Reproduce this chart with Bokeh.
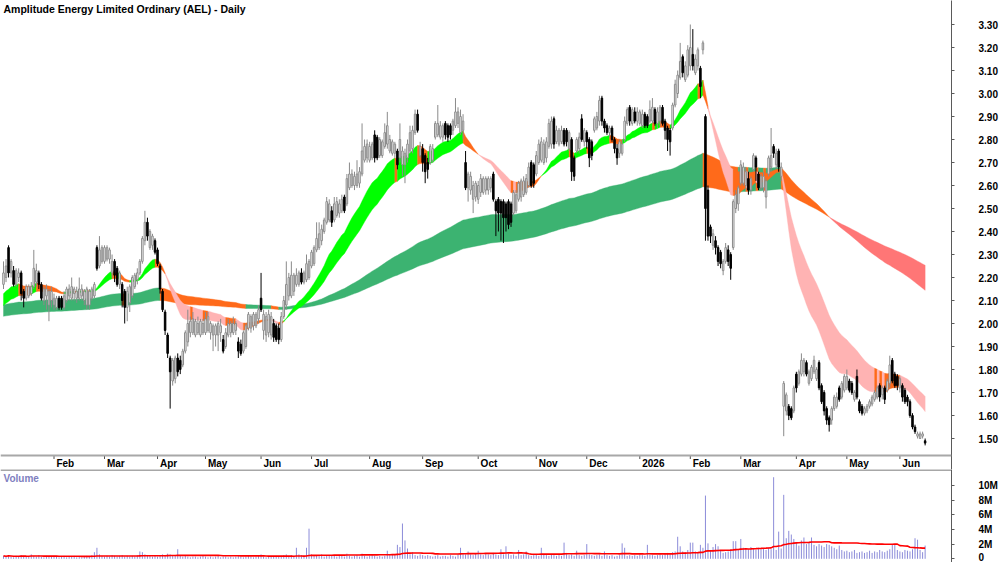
import numpy as np
import pandas as pd
from bokeh.plotting import figure
from bokeh.layouts import column
from bokeh.models import Range1d, FixedTicker, NumeralTickFormatter, Span, Label, ColumnDataSource
from bokeh.core.properties import value
from bokeh.embed import file_html
from bokeh.resources import INLINE

TITLE = "Amplitude Energy Limited Ordinary (AEL) - Daily"

open_ = [
2.17,2.20,2.33,2.22,2.23,2.17,2.20,2.22,2.14,2.11,
2.12,2.13,2.16,2.18,2.22,2.17,2.10,2.12,2.08,2.10,
2.08,2.07,2.11,2.11,2.07,2.10,2.12,2.11,2.13,2.11,
2.11,2.12,2.10,2.08,2.08,2.11,2.12,2.33,2.25,2.27,
2.27,2.28,2.28,2.22,2.27,2.24,2.17,2.17,2.14,2.07,
2.09,2.12,2.16,2.19,2.22,2.27,2.36,2.44,2.33,2.34,
2.36,2.32,2.25,2.14,2.05,1.95,1.85,1.75,1.76,1.85,
1.84,1.82,1.88,1.92,1.96,1.96,1.95,1.96,1.95,1.96,
1.96,1.97,1.96,1.95,1.95,1.95,1.96,1.93,1.90,1.95,
1.96,1.96,1.97,1.92,1.91,1.88,1.90,1.98,1.98,1.99,
1.99,2.02,2.11,1.97,1.95,1.96,1.95,2.00,1.99,1.98,
1.93,2.03,2.08,2.12,2.12,2.14,2.17,2.17,2.22,2.18,
2.19,2.20,2.25,2.26,2.32,2.33,2.36,2.40,2.44,2.45,
2.49,2.45,2.47,2.48,2.49,2.55,2.52,2.59,2.60,2.60,
2.60,2.61,2.65,2.71,2.72,2.71,2.72,2.82,2.81,2.73,
2.73,2.77,2.78,2.75,2.74,2.74,2.75,2.72,2.69,2.69,
2.72,2.75,2.76,2.83,2.91,2.73,2.76,2.73,2.70,2.70,
2.71,2.81,2.82,2.81,2.81,2.87,2.86,2.86,2.84,2.86,
2.87,2.83,2.84,2.70,2.59,2.58,2.54,2.55,2.54,2.57,
2.57,2.58,2.58,2.59,2.65,2.53,2.54,2.53,2.53,2.52,
2.53,2.52,2.48,2.49,2.54,2.55,2.56,2.57,2.60,2.70,
2.69,2.65,2.70,2.71,2.70,2.72,2.77,2.78,2.89,2.79,
2.78,2.79,2.84,2.84,2.76,2.80,2.72,2.75,2.76,2.89,
2.79,2.83,2.80,2.79,2.84,2.85,2.88,2.98,2.88,2.86,
2.83,2.85,2.80,2.76,2.74,2.74,2.80,2.87,2.94,2.87,
2.92,2.88,2.87,2.86,2.91,2.90,2.88,2.88,2.93,2.87,
2.88,2.94,2.88,2.85,2.84,2.85,2.95,3.00,3.07,3.16,
3.06,3.08,3.12,3.17,3.09,3.12,3.11,3.19,2.90,2.58,
2.42,2.34,2.36,2.33,2.31,2.23,2.27,2.32,2.30,2.33,
2.50,2.52,2.61,2.61,2.60,2.63,2.58,2.67,2.72,2.65,
2.59,2.59,2.55,2.65,2.68,2.77,2.69,2.75,2.64,1.64,
1.62,1.64,1.63,1.62,1.78,1.74,1.78,1.79,1.83,1.74,
1.76,1.79,1.76,1.83,1.73,1.70,1.63,1.59,1.58,1.63,
1.64,1.72,1.68,1.71,1.72,1.75,1.74,1.67,1.77,1.66,
1.64,1.61,1.62,1.64,1.65,1.67,1.68,1.73,1.69,1.72,
1.71,1.74,1.84,1.78,1.77,1.72,1.73,1.71,1.68,1.66,
1.60,1.55,1.51,1.50,1.51,1.49]

high_ = [
2.27,2.28,2.34,2.28,2.25,2.24,2.24,2.23,2.15,2.17,
2.17,2.18,2.32,2.26,2.23,2.18,2.16,2.17,2.15,2.16,
2.13,2.12,2.12,2.12,2.14,2.16,2.17,2.20,2.16,2.16,
2.20,2.17,2.15,2.16,2.15,2.16,2.18,2.34,2.38,2.34,
2.34,2.34,2.33,2.30,2.28,2.25,2.23,2.18,2.15,2.16,
2.17,2.21,2.22,2.24,2.28,2.38,2.49,2.46,2.41,2.39,
2.37,2.33,2.26,2.15,2.06,1.96,1.86,1.85,1.86,1.87,
1.86,1.89,1.97,2.06,2.03,2.05,2.02,2.03,2.02,2.02,
2.05,2.05,2.01,2.00,2.00,2.01,2.02,1.95,1.98,2.02,
2.01,2.03,2.01,1.94,1.93,1.97,2.00,2.05,2.04,2.05,
2.05,2.08,2.22,2.06,2.05,2.06,2.05,2.02,2.00,2.00,
2.05,2.12,2.27,2.22,2.27,2.22,2.24,2.23,2.24,2.23,
2.30,2.28,2.32,2.34,2.44,2.44,2.43,2.46,2.55,2.54,
2.51,2.55,2.55,2.54,2.56,2.56,2.65,2.70,2.67,2.66,
2.71,2.68,2.87,2.80,2.80,2.79,2.79,2.84,2.82,2.81,
2.80,2.87,2.92,2.82,2.80,2.79,2.76,2.87,2.77,2.76,
2.80,2.86,2.86,2.93,2.93,2.79,2.78,2.74,2.72,2.78,
2.78,2.88,2.95,2.88,2.87,2.88,2.87,2.87,2.89,2.98,
2.94,2.93,2.91,2.75,2.66,2.66,2.62,2.62,2.62,2.65,
2.64,2.64,2.64,2.64,2.66,2.54,2.55,2.54,2.54,2.53,
2.54,2.53,2.58,2.58,2.62,2.63,2.64,2.65,2.70,2.71,
2.70,2.75,2.80,2.81,2.80,2.81,2.89,2.90,2.90,2.86,
2.85,2.86,2.85,2.85,2.84,2.81,2.73,2.81,2.83,2.91,
2.85,2.84,2.81,2.80,2.90,2.92,2.99,2.99,2.89,2.87,
2.86,2.86,2.81,2.78,2.80,2.80,2.90,2.94,2.95,2.94,
2.94,2.94,2.93,2.93,2.92,2.91,2.97,2.98,2.94,2.94,
2.95,2.95,2.89,2.86,2.85,2.96,3.06,3.10,3.22,3.17,
3.14,3.21,3.30,3.28,3.17,3.20,3.12,3.23,2.91,2.60,
2.43,2.41,2.38,2.34,2.32,2.28,2.35,2.34,2.31,2.54,
2.58,2.60,2.71,2.70,2.68,2.66,2.64,2.74,2.73,2.66,
2.65,2.66,2.63,2.73,2.85,2.78,2.76,2.76,2.70,1.75,
1.70,1.65,1.64,1.73,1.79,1.80,1.87,1.85,1.84,1.80,
1.82,1.86,1.81,1.84,1.74,1.71,1.64,1.60,1.64,1.69,
1.70,1.73,1.75,1.78,1.80,1.76,1.75,1.71,1.80,1.67,
1.65,1.64,1.65,1.67,1.69,1.71,1.73,1.74,1.73,1.73,
1.76,1.86,1.85,1.79,1.78,1.77,1.74,1.72,1.69,1.67,
1.61,1.56,1.53,1.53,1.53,1.50]

low_ = [
2.15,2.18,2.20,2.20,2.16,2.16,2.18,2.10,2.07,2.10,
2.11,2.12,2.15,2.16,2.15,2.10,2.08,2.06,2.01,2.07,
2.06,2.06,2.06,2.06,2.06,2.09,2.10,2.10,2.10,2.09,
2.10,2.10,2.08,2.06,2.06,2.10,2.11,2.23,2.24,2.26,
2.26,2.27,2.26,2.20,2.18,2.16,2.15,2.07,2.00,2.01,
2.05,2.11,2.15,2.17,2.21,2.26,2.34,2.36,2.32,2.32,
2.30,2.25,2.13,2.05,1.95,1.85,1.63,1.73,1.74,1.77,
1.78,1.81,1.87,1.90,1.94,1.95,1.94,1.95,1.94,1.95,
1.95,1.96,1.93,1.88,1.90,1.88,1.92,1.87,1.89,1.94,
1.94,1.95,1.95,1.85,1.86,1.87,1.89,1.97,1.96,1.97,
1.98,2.00,2.05,1.93,1.92,1.94,1.93,1.92,1.92,1.91,
1.92,2.02,2.06,2.10,2.11,2.12,2.16,2.16,2.17,2.17,
2.18,2.19,2.24,2.25,2.31,2.32,2.34,2.39,2.43,2.44,
2.42,2.44,2.46,2.46,2.48,2.48,2.51,2.58,2.59,2.58,
2.59,2.59,2.64,2.70,2.70,2.70,2.71,2.70,2.71,2.72,
2.72,2.76,2.76,2.74,2.73,2.72,2.67,2.70,2.64,2.61,
2.70,2.74,2.74,2.82,2.83,2.72,2.66,2.61,2.63,2.69,
2.70,2.80,2.81,2.80,2.79,2.80,2.79,2.80,2.82,2.85,
2.85,2.82,2.80,2.58,2.53,2.56,2.48,2.53,2.52,2.55,
2.56,2.56,2.56,2.57,2.53,2.38,2.40,2.36,2.35,2.40,
2.41,2.42,2.47,2.48,2.53,2.53,2.55,2.56,2.59,2.59,
2.59,2.64,2.69,2.70,2.69,2.70,2.76,2.76,2.76,2.78,
2.77,2.78,2.77,2.77,2.75,2.62,2.62,2.74,2.74,2.79,
2.77,2.76,2.68,2.71,2.83,2.84,2.86,2.86,2.83,2.82,
2.81,2.79,2.74,2.69,2.72,2.73,2.79,2.86,2.86,2.86,
2.87,2.86,2.86,2.85,2.85,2.85,2.87,2.87,2.86,2.85,
2.86,2.86,2.80,2.75,2.73,2.84,2.94,2.98,3.06,3.07,
3.05,3.07,3.10,3.10,3.08,3.10,2.98,3.17,2.36,2.36,
2.35,2.32,2.30,2.25,2.24,2.21,2.26,2.25,2.19,2.32,
2.48,2.49,2.60,2.60,2.58,2.56,2.56,2.66,2.62,2.58,
2.58,2.57,2.50,2.64,2.66,2.72,2.67,2.66,2.62,1.51,
1.60,1.58,1.58,1.61,1.70,1.73,1.77,1.77,1.77,1.73,
1.75,1.78,1.75,1.71,1.65,1.60,1.56,1.53,1.56,1.62,
1.63,1.66,1.67,1.70,1.71,1.70,1.69,1.66,1.67,1.61,
1.60,1.60,1.61,1.63,1.64,1.66,1.67,1.66,1.67,1.65,
1.70,1.72,1.74,1.72,1.71,1.70,1.66,1.65,1.64,1.59,
1.54,1.52,1.50,1.50,1.50,1.47]

close_ = [
2.22,2.25,2.22,2.27,2.17,2.23,2.22,2.13,2.11,2.16,
2.16,2.16,2.24,2.23,2.17,2.11,2.15,2.15,2.14,2.14,
2.11,2.11,2.07,2.07,2.12,2.15,2.15,2.16,2.15,2.14,
2.15,2.15,2.14,2.15,2.14,2.15,2.17,2.24,2.32,2.33,
2.33,2.33,2.32,2.27,2.21,2.17,2.22,2.10,2.07,2.14,
2.16,2.20,2.21,2.22,2.27,2.37,2.44,2.38,2.40,2.38,
2.31,2.26,2.15,2.06,1.97,1.87,1.79,1.84,1.85,1.79,
1.80,1.88,1.96,2.00,2.01,2.02,2.01,2.00,2.01,2.00,
2.02,2.03,2.00,1.99,1.99,2.00,1.99,1.88,1.96,2.00,
2.00,2.00,2.00,1.88,1.87,1.96,1.99,2.04,2.03,2.04,
2.04,2.06,2.06,2.04,2.03,2.04,2.03,1.94,1.93,1.93,
2.03,2.10,2.17,2.20,2.21,2.21,2.21,2.22,2.18,2.22,
2.26,2.27,2.31,2.33,2.37,2.39,2.41,2.45,2.53,2.52,
2.44,2.52,2.53,2.52,2.54,2.49,2.63,2.65,2.65,2.64,
2.65,2.66,2.75,2.77,2.78,2.77,2.78,2.72,2.72,2.80,
2.79,2.83,2.86,2.80,2.79,2.78,2.69,2.80,2.75,2.74,
2.78,2.83,2.84,2.91,2.84,2.77,2.70,2.66,2.67,2.77,
2.76,2.87,2.87,2.86,2.86,2.82,2.81,2.82,2.88,2.92,
2.92,2.90,2.88,2.59,2.65,2.64,2.60,2.61,2.60,2.63,
2.63,2.63,2.63,2.63,2.54,2.49,2.48,2.48,2.46,2.46,
2.43,2.44,2.57,2.56,2.61,2.62,2.62,2.63,2.68,2.60,
2.61,2.73,2.78,2.79,2.78,2.79,2.87,2.88,2.78,2.84,
2.84,2.84,2.78,2.79,2.83,2.66,2.64,2.80,2.81,2.80,
2.84,2.79,2.72,2.73,2.89,2.90,2.97,2.88,2.85,2.83,
2.85,2.80,2.76,2.72,2.79,2.78,2.88,2.93,2.88,2.93,
2.88,2.92,2.92,2.91,2.86,2.86,2.93,2.94,2.87,2.92,
2.94,2.87,2.84,2.80,2.79,2.95,3.04,3.08,3.14,3.09,
3.12,3.19,3.20,3.12,3.15,3.19,3.03,3.22,2.50,2.38,
2.38,2.39,2.33,2.27,2.26,2.27,2.33,2.27,2.24,2.53,
2.56,2.59,2.69,2.68,2.66,2.58,2.63,2.73,2.68,2.59,
2.64,2.64,2.62,2.72,2.73,2.74,2.74,2.68,2.68,1.74,
1.69,1.60,1.59,1.72,1.72,1.79,1.84,1.84,1.78,1.79,
1.81,1.84,1.80,1.72,1.66,1.62,1.58,1.56,1.63,1.68,
1.68,1.67,1.74,1.77,1.77,1.71,1.70,1.70,1.68,1.62,
1.61,1.63,1.64,1.66,1.68,1.70,1.72,1.68,1.72,1.67,
1.75,1.82,1.75,1.73,1.73,1.76,1.68,1.66,1.66,1.60,
1.55,1.53,1.52,1.52,1.52,1.48]

volume_m = [
0.4,0.3,0.5,0.3,0.2,0.4,0.3,0.5,0.4,0.3,
0.3,0.6,0.4,0.3,0.5,0.3,0.2,0.4,0.3,0.3,
0.4,0.3,0.2,0.3,0.4,0.2,0.3,0.3,0.4,0.2,
0.3,0.2,0.3,0.4,0.3,0.5,0.9,1.5,0.6,0.4,
0.3,0.4,0.3,0.5,0.4,0.3,0.4,0.5,0.3,0.4,
0.3,0.4,0.3,0.5,1.0,0.9,0.6,0.5,0.4,0.3,
0.4,0.3,0.5,0.6,0.5,0.7,0.6,0.5,0.4,1.3,
0.4,0.3,0.4,0.3,0.2,0.3,0.3,0.2,0.3,0.4,
0.3,0.2,0.3,0.2,0.3,0.4,0.2,0.3,0.3,0.2,
0.3,0.2,0.3,0.4,0.3,0.2,0.3,0.4,0.3,0.2,
0.3,0.4,0.6,0.3,0.2,0.4,0.3,0.3,0.4,0.3,
0.4,0.5,0.6,0.4,0.5,0.4,1.5,0.6,0.5,0.4,
1.5,4.1,0.6,0.5,0.4,0.5,0.6,0.3,0.5,0.4,
0.5,0.4,0.3,0.4,0.5,0.3,0.7,0.4,0.3,0.4,
0.5,0.3,0.7,0.4,0.3,0.4,0.5,0.4,0.3,0.4,
0.3,0.4,1.1,0.5,0.6,0.5,1.9,1.6,4.8,2.5,
1.4,0.6,0.9,0.5,0.4,0.6,0.5,0.4,0.5,0.4,
0.3,0.4,0.5,0.3,0.4,0.4,0.3,0.5,0.4,0.3,
0.6,1.5,0.7,0.6,1.0,0.6,0.5,0.7,1.1,0.6,
0.5,0.7,0.6,0.5,0.8,0.6,0.5,1.3,0.6,1.7,
0.7,0.5,0.6,0.4,1.2,0.5,0.6,1.0,0.5,0.4,
0.5,0.6,0.4,1.5,0.6,0.5,0.4,0.6,0.5,0.4,
0.5,0.4,2.2,0.8,0.5,0.6,0.4,1.1,0.5,0.4,
0.5,2.0,0.6,0.5,0.4,0.5,0.6,0.4,1.0,0.5,
0.4,0.5,0.3,0.4,0.5,2.1,1.5,0.4,0.5,0.4,
0.5,0.4,0.6,0.5,0.4,1.9,0.6,0.5,0.4,0.5,
0.6,0.5,0.7,0.8,0.6,0.9,1.0,3.0,1.7,1.0,
0.9,1.2,2.2,2.2,1.0,0.9,1.9,1.5,8.6,2.1,
1.2,1.6,2.0,1.7,1.2,0.8,0.9,1.0,1.3,2.4,
2.4,1.3,2.7,1.5,1.4,1.3,1.6,1.4,1.2,1.5,
1.3,1.4,1.2,1.5,1.3,11.1,1.2,3.7,1.4,8.7,
2.8,3.8,3.3,2.7,2.2,1.8,2.5,2.9,2.0,2.3,
2.9,1.9,1.7,2.0,1.8,1.6,2.0,1.9,1.7,1.5,
1.3,1.8,1.2,1.0,1.1,0.9,1.0,1.2,0.8,0.9,
1.0,0.8,0.9,1.1,0.8,1.0,0.9,1.2,1.0,0.9,
1.1,1.3,1.9,1.9,1.2,1.0,0.9,1.2,1.1,1.0,
1.3,2.8,2.6,1.2,0.9,1.8]

month_start_idx = [20, 40, 61, 80, 102, 122, 145, 166, 188, 211, 231, 252, 272, 292, 314, 334, 355]
month_labels = ["Feb", "Mar", "Apr", "May", "Jun", "Jul", "Aug", "Sep", "Oct", "Nov", "Dec",
                "2026", "Feb", "Mar", "Apr", "May", "Jun"]
price_ticks = [1.5, 1.6, 1.7, 1.8, 1.9, 2.0, 2.1, 2.2, 2.3, 2.4, 2.5, 2.6, 2.7, 2.8, 2.9, 3.0, 3.1, 3.2, 3.3]
volume_ticks = [0, 2, 4, 6, 8, 10]
volume_tick_labels = ["0", "2M", "4M", "6M", "8M", "10M"]

# indicator parameters (EMA periods and their starting values at the left edge)
fast_periods = (20, 35)
fast_seed = (2.12, 2.07)
slow_periods = (150, 250)
slow_seed = (2.08, 2.03)
slow_flat_tol = 0.0007   # a change smaller than this still counts as "rising" for the slow ribbon
vol_ma_period = 50

n = len(close_)
assert len(open_) == n and len(high_) == n and len(low_) == n and len(volume_m) == n, \
    (len(open_), len(high_), len(low_), len(close_), len(volume_m))
idx = np.arange(n)
o = np.array(open_); h = np.array(high_); l = np.array(low_); c = np.array(close_)
vol = np.array(volume_m)

FONT = "Liberation Sans"

# ---- geometry ----
FRAME_W = 951
PRICE_H = 469
VOL_H = 93
BAR_PX = 2.525
FIRST_BAR_PX = 3.0
PX_PER_UNIT = 230.0
x_start = -FIRST_BAR_PX / BAR_PX
x_end = (FRAME_W - FIRST_BAR_PX) / BAR_PX
y_top = 3.30 + 24 / PX_PER_UNIT
y_bot = y_top - PRICE_H / PX_PER_UNIT
axis_base = y_top - 455 / PX_PER_UNIT
label_y = y_top - 462.7 / PX_PER_UNIT


def ema(vals, period, seed):
    a = 2.0 / (period + 1)
    out = np.empty(len(vals))
    v = seed
    for i, x in enumerate(vals):
        v = v + a * (x - v)
        out[i] = v
    return out


def ribbon(a, b, up_col, mix_col, down_col, tol=0.0):
    top = np.maximum(a, b)
    bot = np.minimum(a, b)
    seg_col = []
    for i in range(1, len(a)):
        rising = a[i] >= a[i - 1] - tol
        if a[i] > b[i] and rising:
            seg_col.append(up_col)
        elif a[i] < b[i] and not rising:
            seg_col.append(down_col)
        else:
            seg_col.append(mix_col)
    xs, ys, cols = [], [], []
    s = 0
    while s < len(seg_col):
        e = s
        while e + 1 < len(seg_col) and seg_col[e + 1] == seg_col[s]:
            e += 1
        pts = list(range(s, e + 2))
        xs.append(pts + pts[::-1])
        ys.append([top[k] for k in pts] + [bot[k] for k in pts[::-1]])
        cols.append(seg_col[s])
        s = e + 1
    return ColumnDataSource(dict(xs=xs, ys=ys, color=cols))


fa = ema(c, fast_periods[0], fast_seed[0])
fb = ema(c, fast_periods[1], fast_seed[1])
sa = ema(c, slow_periods[0], slow_seed[0])
sb = ema(c, slow_periods[1], slow_seed[1])

ORANGE = "#ff6a1a"

p = figure(frame_width=FRAME_W, frame_height=PRICE_H,
           x_range=Range1d(x_start, x_end), y_range=Range1d(y_bot, y_top),
           x_axis_location=None, y_axis_location="right",
           output_backend="svg", toolbar_location=None, min_border=0,
           background_fill_color="white", border_fill_color="white",
           outline_line_color=None)
p.grid.visible = False

p.patches("xs", "ys", source=ribbon(sa, sb, "#3cb371", ORANGE, "#ff7676", slow_flat_tol),
          fill_color="color", line_color="color", line_width=0.4)
p.patches("xs", "ys", source=ribbon(fa, fb, "#00ff00", ORANGE, "#ffb3b3"),
          fill_color="color", line_color="color", line_width=0.4)

up = c >= o
for mask, fill, edge in ((up, "white", "#8a8a8a"), (~up, "black", "black")):
    src = ColumnDataSource(dict(x=idx[mask], hi=h[mask], lo=l[mask],
                                top=np.maximum(o, c)[mask], bottom=np.minimum(o, c)[mask]))
    p.segment(x0="x", y0="lo", x1="x", y1="hi", source=src, line_color=edge, line_width=1)
    p.vbar(x="x", width=0.6, top="top", bottom="bottom", source=src,
           fill_color=fill, line_color=edge, line_width=1)

# bottom date strip
p.add_layout(Span(location=axis_base, dimension="width", line_color="#a8a8a8", line_width=2))
p.segment(x0=month_start_idx, y0=[axis_base] * len(month_start_idx),
          x1=month_start_idx, y1=[axis_base - 3.5 / PX_PER_UNIT] * len(month_start_idx),
          line_color="#505050", line_width=1)
p.text(x=[m + 2.4 / BAR_PX for m in month_start_idx], y=[label_y] * len(month_start_idx),
       text=month_labels, text_font=value(FONT), text_font_size="10px",
       text_font_style="bold", text_align="left", text_baseline="middle", text_color="black")

p.add_layout(Label(x=3, y=PRICE_H - 8, x_units="screen", y_units="screen", text=TITLE,
                   text_font=FONT, text_font_size="10.5px", text_font_style="bold",
                   text_baseline="middle", text_color="black"))

ax = p.yaxis[0]
ax.ticker = FixedTicker(ticks=price_ticks)
ax.formatter = NumeralTickFormatter(format="0.00")
ax.major_tick_in = 0
ax.major_tick_out = 3
ax.minor_tick_in = 0
ax.minor_tick_out = 0
ax.major_label_standoff = 24
ax.axis_line_color = "#5a5a5a"
ax.major_tick_line_color = "#5a5a5a"
ax.major_label_text_font = FONT
ax.major_label_text_font_size = "10px"
ax.major_label_text_font_style = "bold"
ax.major_label_text_color = "black"

# ---- volume panel ----
v_px_per_m = 7.35
v_zero_px = 558.3 - 469
v_top = v_zero_px / v_px_per_m
v_bot = -(VOL_H - v_zero_px) / v_px_per_m

pv = figure(frame_width=FRAME_W, frame_height=VOL_H,
            x_range=p.x_range, y_range=Range1d(v_bot, v_top),
            x_axis_location=None, y_axis_location="right",
            output_backend="svg", toolbar_location=None, min_border=0,
            background_fill_color="white", border_fill_color="white",
            outline_line_color=None)
pv.grid.visible = False
pv.segment(x0=idx, y0=np.zeros(n), x1=idx, y1=vol, line_color="#8c8cd9", line_width=1)
vol_ma = pd.Series(vol).rolling(vol_ma_period, min_periods=1).mean().values
pv.line(idx, vol_ma, line_color="#ff0000", line_width=1.6)
pv.add_layout(Span(location=v_top - 0.5 / v_px_per_m, dimension="width",
                   line_color="#505050", line_width=1))
pv.add_layout(Label(x=3, y=VOL_H - 9, x_units="screen", y_units="screen", text="Volume",
                    text_font=FONT, text_font_size="10px", text_font_style="bold",
                    text_baseline="middle", text_color="#8080c0"))

vax = pv.yaxis[0]
vax.ticker = FixedTicker(ticks=volume_ticks)
vax.major_label_overrides = {t: s for t, s in zip(volume_ticks, volume_tick_labels)}
vax.major_tick_in = 0
vax.major_tick_out = 3
vax.minor_tick_in = 0
vax.minor_tick_out = 0
vax.major_label_standoff = 24
vax.axis_line_color = "#5a5a5a"
vax.major_tick_line_color = "#5a5a5a"
vax.major_label_text_font = FONT
vax.major_label_text_font_size = "10px"
vax.major_label_text_font_style = "bold"
vax.major_label_text_color = "black"

layout = column(p, pv, spacing=0)
open("out.html", "w").write(file_html(layout, INLINE, title="AEL Daily"))
